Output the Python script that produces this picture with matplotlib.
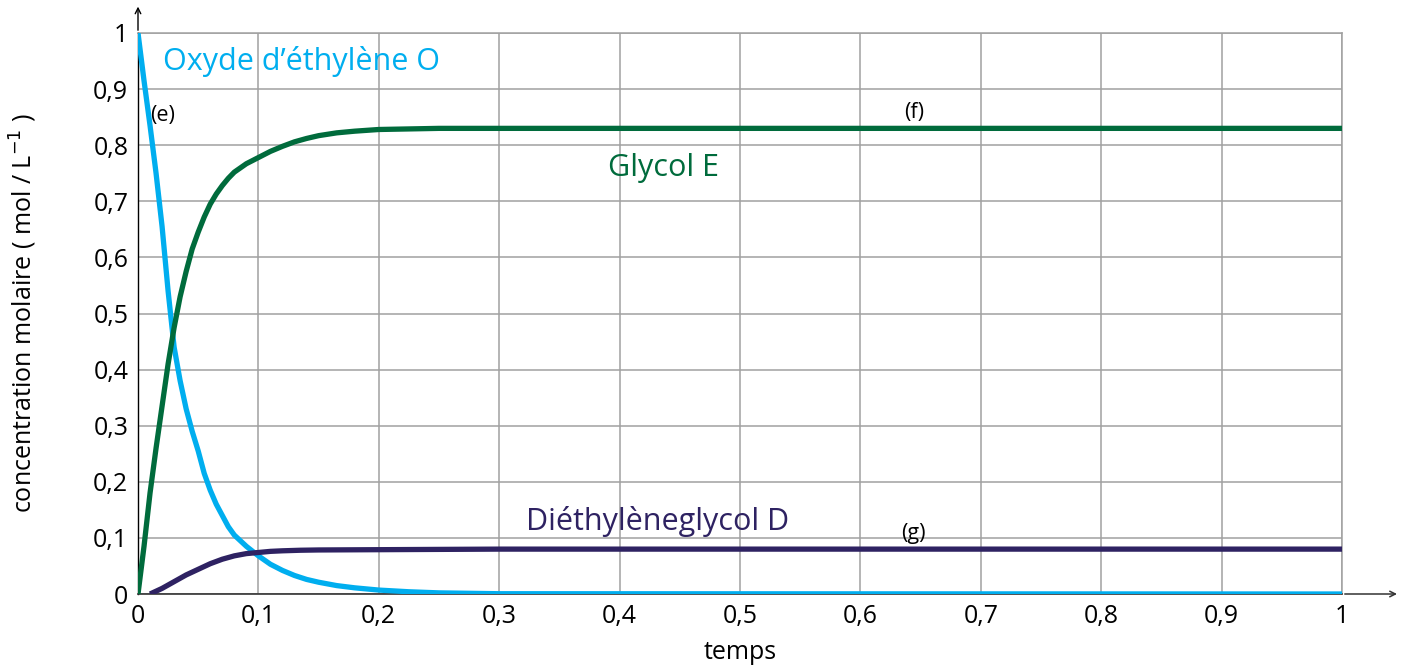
import matplotlib.pyplot as plt
import numpy as np

plt.rcParams['font.family'] = ['Open Sans', 'DejaVu Sans']

# values
t_oxyde = [0, 0.005, 0.01, 0.015, 0.02, 0.025, 0.03, 0.035, 0.04, 0.045, 0.05,
           0.055, 0.06, 0.065, 0.07, 0.075, 0.08, 0.09, 0.1, 0.11, 0.12, 0.13,
           0.14, 0.15, 0.165, 0.18, 0.2, 0.225, 0.25, 0.3, 1.0]
c_oxyde = [1.0, 0.915, 0.835, 0.75, 0.655, 0.54, 0.44, 0.38, 0.33, 0.29, 0.255,
           0.215, 0.185, 0.16, 0.14, 0.12, 0.105, 0.085, 0.068, 0.053, 0.042, 0.033,
           0.026, 0.021, 0.015, 0.011, 0.007, 0.004, 0.002, 0.0005, 0.0]

t_glycol = [0, 0.005, 0.01, 0.015, 0.02, 0.025, 0.03, 0.035, 0.04, 0.045, 0.05,
            0.055, 0.06, 0.065, 0.07, 0.075, 0.08, 0.09, 0.1, 0.11, 0.12, 0.13,
            0.14, 0.15, 0.165, 0.18, 0.2, 0.225, 0.25, 0.3, 1.0]
c_glycol = [0, 0.085, 0.18, 0.26, 0.335, 0.41, 0.475, 0.53, 0.575, 0.615, 0.645,
            0.672, 0.695, 0.713, 0.728, 0.741, 0.752, 0.767, 0.778, 0.789, 0.798, 0.806,
            0.812, 0.817, 0.822, 0.825, 0.828, 0.829, 0.83, 0.83, 0.83]

t_diethyl = [0.01, 0.015, 0.02, 0.025, 0.03, 0.035, 0.04, 0.045, 0.05, 0.055, 0.06,
             0.065, 0.07, 0.075, 0.08, 0.09, 0.1, 0.11, 0.12, 0.135, 0.15, 0.2,
             0.3, 1.0]
c_diethyl = [0.0, 0.005, 0.01, 0.016, 0.022, 0.028, 0.034, 0.039, 0.044, 0.049, 0.054,
             0.058, 0.062, 0.065, 0.068, 0.072, 0.074, 0.076, 0.077, 0.078, 0.0785, 0.079,
             0.08, 0.08]

ticks = np.arange(0, 1.01, 0.1)
tick_labels = ['0', '0,1', '0,2', '0,3', '0,4', '0,5', '0,6', '0,7', '0,8', '0,9', '1']

fig = plt.figure(figsize=(14.13, 6.67), dpi=100)
ax = fig.add_axes([138 / 1413, 1 - 594 / 667, 1204 / 1413, 561 / 667])

ax.plot(t_oxyde, c_oxyde, color='#00aeef', lw=3.8, solid_capstyle='butt',
        solid_joinstyle='round', zorder=3)
ax.plot(t_glycol, c_glycol, color='#006b3c', lw=3.8, solid_capstyle='butt',
        solid_joinstyle='round', zorder=3)
ax.plot(t_diethyl, c_diethyl, color='#2e2262', lw=3.8, solid_capstyle='butt',
        solid_joinstyle='round', zorder=3)

ax.set_xlim(0, 1)
ax.set_ylim(0, 1)
ax.set_xticks(ticks)
ax.set_yticks(ticks)
ax.set_xticklabels(tick_labels)
ax.set_yticklabels(tick_labels)
ax.tick_params(length=0, labelsize=18, pad=7)
ax.grid(True, color='#a0a0a0', lw=1.1)
ax.set_axisbelow(True)

for s in ['top', 'right']:
    ax.spines[s].set_visible(False)
ax.spines['left'].set_color('black')
ax.spines['bottom'].set_color('#333333')
ax.spines['left'].set_linewidth(1.0)
ax.spines['bottom'].set_linewidth(1.2)
ax.plot([1, 1], [0, 1], color='#a0a0a0', lw=1.1, zorder=1, clip_on=False)
ax.plot([0, 1], [1, 1], color='#a0a0a0', lw=1.1, zorder=1, clip_on=False)

# axis arrows
ax.annotate('', xy=(1.048, 0), xytext=(1.0, 0), xycoords='data',
            arrowprops=dict(arrowstyle='->', color='#333333', lw=1.1), annotation_clip=False)
ax.annotate('', xy=(0, 1.052), xytext=(0, 1.0), xycoords='data',
            arrowprops=dict(arrowstyle='->', color='black', lw=1.0), annotation_clip=False)

ax.set_xlabel('temps', fontsize=18)
ax.set_ylabel('concentration molaire ( mol / L$^{-1}$ )', fontsize=18)
ax.xaxis.set_label_coords(0.5, -0.082)
ax.yaxis.set_label_coords(-0.082, 0.5)

ax.text(0.021, 0.95, 'Oxyde d’éthylène O', color='#00aeef', fontsize=22, va='center')
ax.text(0.39, 0.76, 'Glycol E', color='#006b3c', fontsize=22, va='center')
ax.text(0.322, 0.13, 'Diéthylèneglycol D', color='#2e2262', fontsize=22, va='center')
ax.text(0.01, 0.853, '(e)', fontsize=15.5, va='center')
ax.text(0.636, 0.859, '(f)', fontsize=15.5, va='center')
ax.text(0.634, 0.108, '(g)', fontsize=15.5, va='center')

fig.savefig('out.png', dpi=100)
